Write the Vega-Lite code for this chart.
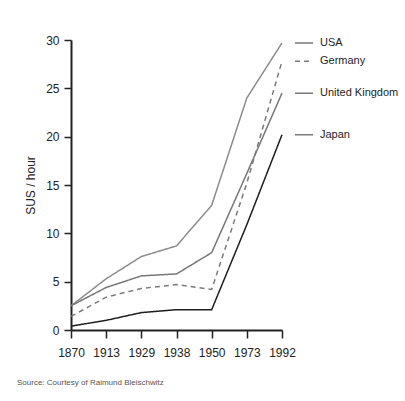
{
  "$schema": "https://vega.github.io/schema/vega-lite/v6.json",
  "autosize": {"type": "none"},
  "width": 211,
  "height": 290,
  "padding": {"left": 71, "top": 40, "right": 123, "bottom": 71},
  "background": "white",
  "config": {
    "view": {"stroke": null},
    "font": "Liberation Sans",
    "axis": {"grid": false, "domainColor": "#222", "tickColor": "#222", "labelColor": "#222", "titleColor": "#222", "labelFont": "Liberation Sans", "titleFont": "Liberation Sans"}
  },
  "title": {
    "text": "Source: Courtesy of Raimund Bleischwitz",
    "orient": "bottom",
    "anchor": "start",
    "frame": "group",
    "dx": -54,
    "offset": 21,
    "fontSize": 8,
    "font": "Liberation Sans",
    "fontWeight": "normal",
    "color": "#555"
  },
  "data": {
    "values": [
      {"year": "1870", "country": "USA", "value": 2.5},
      {"year": "1913", "country": "USA", "value": 5.3},
      {"year": "1929", "country": "USA", "value": 7.6},
      {"year": "1938", "country": "USA", "value": 8.7},
      {"year": "1950", "country": "USA", "value": 12.9},
      {"year": "1973", "country": "USA", "value": 24.0},
      {"year": "1992", "country": "USA", "value": 29.7},
      {"year": "1870", "country": "Germany", "value": 1.4},
      {"year": "1913", "country": "Germany", "value": 3.4},
      {"year": "1929", "country": "Germany", "value": 4.3},
      {"year": "1938", "country": "Germany", "value": 4.7},
      {"year": "1950", "country": "Germany", "value": 4.2},
      {"year": "1973", "country": "Germany", "value": 15.2},
      {"year": "1992", "country": "Germany", "value": 27.8},
      {"year": "1870", "country": "United Kingdom", "value": 2.5},
      {"year": "1913", "country": "United Kingdom", "value": 4.4},
      {"year": "1929", "country": "United Kingdom", "value": 5.6},
      {"year": "1938", "country": "United Kingdom", "value": 5.8},
      {"year": "1950", "country": "United Kingdom", "value": 8.0},
      {"year": "1973", "country": "United Kingdom", "value": 16.2},
      {"year": "1992", "country": "United Kingdom", "value": 24.5},
      {"year": "1870", "country": "Japan", "value": 0.4},
      {"year": "1913", "country": "Japan", "value": 1.0},
      {"year": "1929", "country": "Japan", "value": 1.8},
      {"year": "1938", "country": "Japan", "value": 2.1},
      {"year": "1950", "country": "Japan", "value": 2.1},
      {"year": "1973", "country": "Japan", "value": 10.9},
      {"year": "1992", "country": "Japan", "value": 20.2}
    ]
  },
  "encoding": {
    "x": {
      "field": "year", "type": "ordinal",
      "scale": {"type": "point", "padding": 0},
      "axis": {"title": null, "labelAngle": 0, "labelFontSize": 12, "labelPadding": 9, "tickSize": 8, "domainWidth": 2, "tickWidth": 1.5}
    },
    "y": {
      "field": "value", "type": "quantitative",
      "scale": {"domain": [0, 30], "nice": false},
      "axis": {"title": "SUS / hour", "values": [0, 5, 10, 15, 20, 25, 30], "labelFontSize": 12, "labelPadding": 5, "tickSize": 7, "domainWidth": 2, "tickWidth": 1.5, "titleFontSize": 12, "titleFontWeight": "normal", "titlePadding": 8}
    },
    "color": {
      "field": "country", "type": "nominal",
      "scale": {"domain": ["USA", "Germany", "United Kingdom", "Japan"], "range": ["#8c8c8c", "#7a7a7a", "#777777", "#1e1e1e"]},
      "legend": null
    },
    "strokeDash": {
      "field": "country", "type": "nominal",
      "scale": {"domain": ["USA", "Germany", "United Kingdom", "Japan"], "range": [[1, 0], [5, 4], [1, 0], [1, 0]]},
      "legend": null
    }
  },
  "layer": [
    {"mark": {"type": "line", "strokeWidth": 1.5}},
    {
      "transform": [{"filter": "datum.year == '1992'"}],
      "mark": {"type": "rule", "strokeWidth": 1.5, "xOffset": 13, "x2Offset": 31, "color": "#7a7a7a"},
      "encoding": {
        "x2": {"field": "year"},
        "color": {"value": "#7a7a7a"}
      }
    },
    {
      "transform": [{"filter": "datum.year == '1992'"}],
      "mark": {"type": "text", "align": "left", "baseline": "middle", "dx": 38, "fontSize": 11, "font": "Liberation Sans", "color": "#1e1e1e"},
      "encoding": {
        "text": {"field": "country"},
        "color": {"value": "#1e1e1e"},
        "strokeDash": null
      }
    }
  ]
}
